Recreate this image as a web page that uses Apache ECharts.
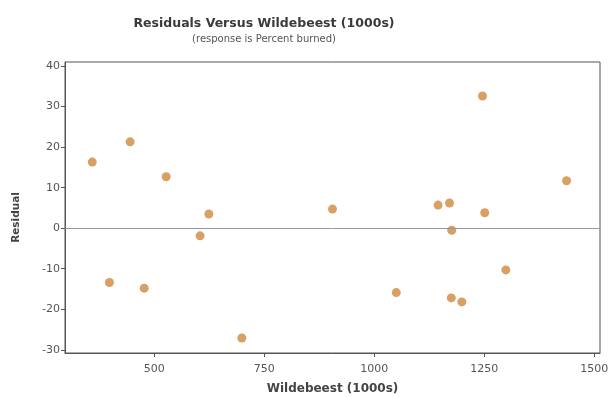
<!DOCTYPE html>
<html>
<head>
<meta charset="utf-8">
<style>
  html, body { margin: 0; padding: 0; background: #fff; }
  #chart { width: 612px; height: 397px; }
</style>
<script src="https://cdn.jsdelivr.net/npm/echarts@6/dist/echarts.min.js"></script>
</head>
<body>
<div id="chart"></div>
<script>
// wildebeest (1000s) vs residual
const wildebeest = [359, 445, 527, 624, 604, 398, 477, 699, 905, 1246, 1437, 1145, 1171, 1251, 1176, 1299, 1050, 1175, 1199];
const residual = [16.3, 21.3, 12.7, 3.5, -1.9, -13.4, -14.8, -27.1, 4.7, 32.6, 11.7, 5.7, 6.2, 3.8, -0.5, -10.3, -15.9, -17.2, -18.2];
const xTicks = [500, 750, 1000, 1250, 1500];
const yTicks = [-30, -20, -10, 0, 10, 20, 30, 40];

const chart = echarts.init(document.getElementById('chart'));
const font = '"DejaVu Sans", sans-serif';

chart.setOption({
  backgroundColor: '#fff',
  animation: false,
  title: {
    text: 'Residuals Versus Wildebeest (1000s)',
    subtext: '(response is Percent burned)',
    left: 259,
    top: 12,
    textAlign: 'center',
    itemGap: 4,
    textStyle: { fontFamily: font, fontSize: 12.5, fontWeight: 'bold', color: '#3a3a3a' },
    subtextStyle: { fontFamily: font, fontSize: 10, color: '#555' }
  },
  grid: {
    left: 65,
    right: 12,
    top: 62,
    bottom: 44,
    outerBoundsMode: 'none',
    containLabel: false,
    show: true,
    borderColor: '#555',
    borderWidth: 1
  },
  xAxis: {
    type: 'value',
    min: 297,
    max: 1513,
    name: 'Wildebeest (1000s)',
    nameLocation: 'middle',
    nameGap: 30,
    nameTextStyle: { fontFamily: font, fontSize: 12, fontWeight: 'bold', color: '#444' },
    axisLine: { show: true, onZero: false, lineStyle: { color: '#555' } },
    axisTick: { show: true, length: 4, customValues: xTicks, lineStyle: { color: '#555' } },
    axisLabel: { customValues: xTicks, formatter: v => String(v), fontFamily: font, fontSize: 11, color: '#555', margin: 11 },
    splitLine: { show: false }
  },
  yAxis: {
    type: 'value',
    min: -30.8,
    max: 41,
    name: 'Residual',
    nameLocation: 'middle',
    nameGap: 43,
    nameRotate: 90,
    nameTextStyle: { fontFamily: font, fontSize: 10.5, fontWeight: 'bold', color: '#444', padding: [0, 0, 0, -20] },
    axisLine: { show: true, onZero: false, lineStyle: { color: '#555' } },
    axisTick: { show: true, length: 4, customValues: yTicks, lineStyle: { color: '#555' } },
    axisLabel: { customValues: yTicks, formatter: v => String(v), fontFamily: font, fontSize: 11, color: '#555', margin: 5 },
    splitLine: { show: false }
  },
  series: [{
    type: 'scatter',
    data: wildebeest.map((w, i) => [w, residual[i]]),
    symbolSize: 9,
    itemStyle: { color: '#d9a066', opacity: 1 },
    markLine: {
      silent: true,
      symbol: 'none',
      label: { show: false },
      lineStyle: { color: '#8c9aa3', width: 1, type: 'solid' },
      data: [{ yAxis: 0 }]
    }
  }]
});
</script>
</body>
</html>
